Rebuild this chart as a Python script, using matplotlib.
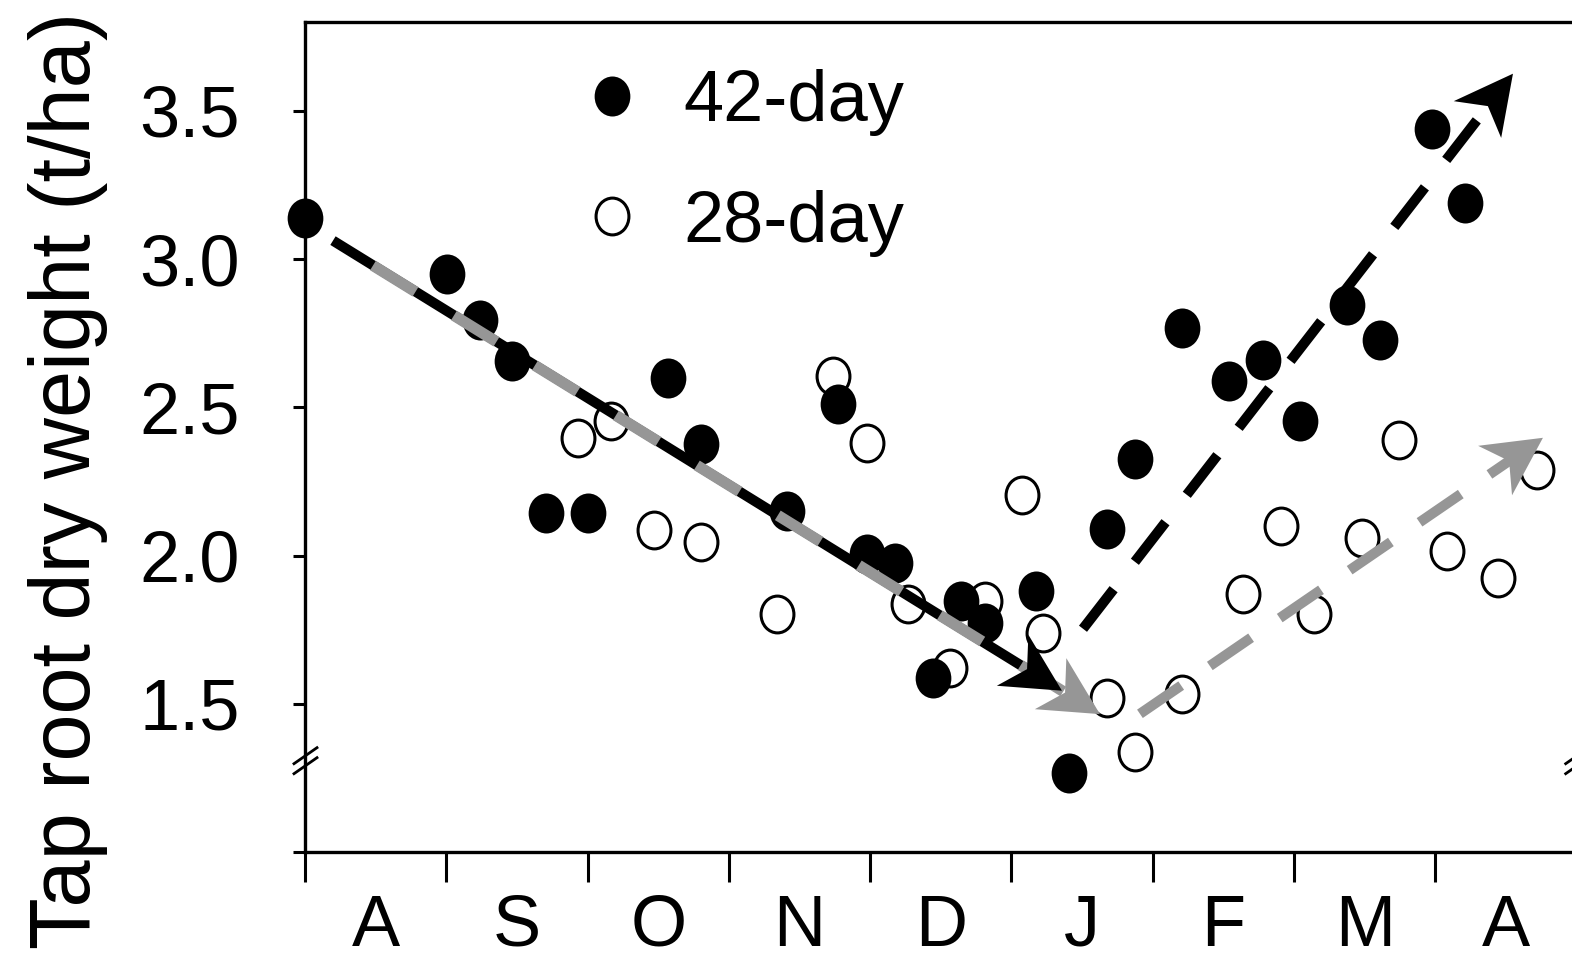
import numpy as np
import matplotlib
matplotlib.use("Agg")
import matplotlib.pyplot as plt
from matplotlib.path import Path
from matplotlib.transforms import Affine2D, IdentityTransform
from matplotlib.patches import Polygon
from matplotlib.lines import Line2D

plt.rcParams['font.family'] = ['Liberation Sans', 'DejaVu Sans']
plt.rcParams['lines.scale_dashes'] = False

# ---------------- data ----------------
months = ['A', 'S', 'O', 'N', 'D', 'J', 'F', 'M', 'A']
month_edges = list(range(10))
month_centres = [m + 0.5 for m in range(9)]

yticks = [1.0, 1.5, 2.0, 2.5, 3.0, 3.5]
ytick_labels = ['', '1.5', '2.0', '2.5', '3.0', '3.5']

# x = months since 1 August
x42 = [0.0, 1.005, 1.238, 1.465, 1.706, 2.003, 2.569, 2.803, 3.411, 3.772,
       3.977, 4.175, 4.643, 4.812, 4.444, 5.173, 5.407, 5.676, 5.874, 6.207,
       6.539, 6.780, 7.042, 7.374, 7.608, 7.976, 8.210]
y42 = [3.139, 2.950, 2.795, 2.657, 2.144, 2.144, 2.600, 2.377, 2.151, 2.512,
       2.006, 1.976, 1.847, 1.773, 1.588, 1.881, 1.267, 2.090, 2.326, 2.768,
       2.589, 2.660, 2.454, 2.846, 2.728, 3.439, 3.190]

x28 = [1.932, 2.166, 2.470, 2.803, 3.340, 3.737, 3.977, 4.268, 4.565, 4.812,
       5.074, 5.223, 5.676, 5.874, 6.207, 6.638, 6.907, 7.141, 7.481, 7.742,
       8.082, 8.443, 8.719]
y28 = [2.397, 2.454, 2.087, 2.046, 1.804, 2.606, 2.380, 1.837, 1.621, 1.847,
       2.205, 1.739, 1.520, 1.338, 1.534, 1.871, 2.100, 1.804, 2.060, 2.390,
       2.016, 1.925, 2.289]

# trend arrows (start, tip)
down42_x = [0.198, 5.357]
down42_y = [3.062, 1.544]
down28_x = [0.481, 5.626]
down28_y = [2.978, 1.465]
up42_x = [5.506, 8.549]
up42_y = [1.753, 3.625]
up28_x = [5.909, 8.761]
up28_y = [1.466, 2.397]

break_y = 1.308

GRAY = '#969696'

# ---------------- figure ----------------
W, H = 1572, 963
fig = plt.figure(figsize=(W / 100, H / 100), dpi=100)
px_per_month = 141.3
px_per_unit = 296.5
left_px, bottom_px = 305, 852
ax = fig.add_axes([left_px / W, (H - bottom_px) / H,
                   9 * px_per_month / W, 2.8 * px_per_unit / H])
ax.set_xlim(0, 9)
ax.set_ylim(1.0, 3.8)

for s in ax.spines.values():
    s.set_linewidth(2.4)

# ellipse marker (slightly taller than wide)
ell = Path.unit_circle().transformed(Affine2D().scale(1.0, 1.12))

ax.plot(x28, y28, linestyle='none', marker=ell, ms=26.5, mfc='white',
        mec='black', mew=2.2, zorder=3, clip_on=False, label='28-day')
ax.plot(x42, y42, linestyle='none', marker=ell, ms=28.8, mfc='black',
        mec='black', mew=0, zorder=4, clip_on=False, label='42-day')


def head(xs, ys, color, L=58, HW=30, notch=17):
    p0 = ax.transData.transform((xs[0], ys[0]))
    p1 = ax.transData.transform((xs[1], ys[1]))
    d = (p1 - p0) / np.hypot(*(p1 - p0))
    n = np.array([-d[1], d[0]])
    base = p1 - d * L
    nt = p1 - d * (L - notch)
    poly = Polygon([p1, base + n * HW, nt, base - n * HW], closed=True,
                   transform=IdentityTransform(), facecolor=color,
                   edgecolor='none', zorder=6, clip_on=False)
    fig.patches.append(poly)
    poly.set_figure(fig)
    end = ax.transData.inverted().transform(p1 - d * (L - notch - 4))
    return [xs[0], end[0]], [ys[0], end[1]]


lw = 7.3
# 42-day decline (black) under 28-day decline (gray, dashed)
bx, by = head(down42_x, down42_y, 'black')
ax.plot(bx, by, color='black', lw=lw, solid_capstyle='butt', zorder=5)
gx, gy = head(down28_x, down28_y, GRAY)
ax.plot(gx, gy, color=GRAY, lw=lw + 0.7, linestyle=(0, (36, 32.5)),
        dash_capstyle='butt', zorder=5)
# recoveries
ux, uy = head(up42_x, up42_y, 'black')
ax.plot(ux, uy, color='black', lw=lw, linestyle=(0, (36, 25)),
        dash_capstyle='butt', zorder=5)
vx, vy = head(up28_x, up28_y, GRAY)
ax.plot(vx, vy, color=GRAY, lw=lw, linestyle=(0, (36, 25)),
        dash_capstyle='butt', zorder=5)

# ticks
ax.set_yticks(yticks)
ax.set_yticklabels(ytick_labels)
ax.set_xticks(month_edges)
ax.set_xticklabels([])
ax.set_xticks(month_centres, minor=True)
ax.set_xticklabels(months, minor=True)
ax.tick_params(axis='y', which='major', direction='out', length=8.6,
               width=2.2, pad=38, labelsize=52, right=False)
ax.tick_params(axis='y', which='minor', left=False, right=False)
ax.tick_params(axis='x', which='major', direction='out', length=21.6,
               width=2.2, top=False)
ax.tick_params(axis='x', which='minor', length=0, pad=30, labelsize=52,
               top=False)

# axis break marks on both spines
for xa in (0.0, 1.0):
    cx, cy = ax.transAxes.transform((xa, 0))[0], ax.transData.transform((0, break_y))[1]
    for off in (5, -5):
        ln = Line2D([cx - 11, cx + 12], [cy + off - 8, cy + off + 8],
                    transform=IdentityTransform(), color='black', lw=2.0,
                    clip_on=False, zorder=7)
        fig.lines.append(ln)
        ln.set_figure(fig)

# legend
hs, ls = ax.get_legend_handles_labels()
handles = [hs[1], hs[0]]
labels = [ls[1], ls[0]]
ax.legend(handles, labels, loc='upper left', bbox_to_anchor=(0.213, 0.943),
          frameon=False, fontsize=52, handlelength=1.0, handletextpad=0.49,
          labelspacing=0.74, borderpad=0, borderaxespad=0)

fig.text(68 / W, 0.5016, 'Tap root dry weight (t/ha)', rotation=90,
         ha='center', va='center', fontsize=61)

fig.savefig('out.png', dpi=100)
